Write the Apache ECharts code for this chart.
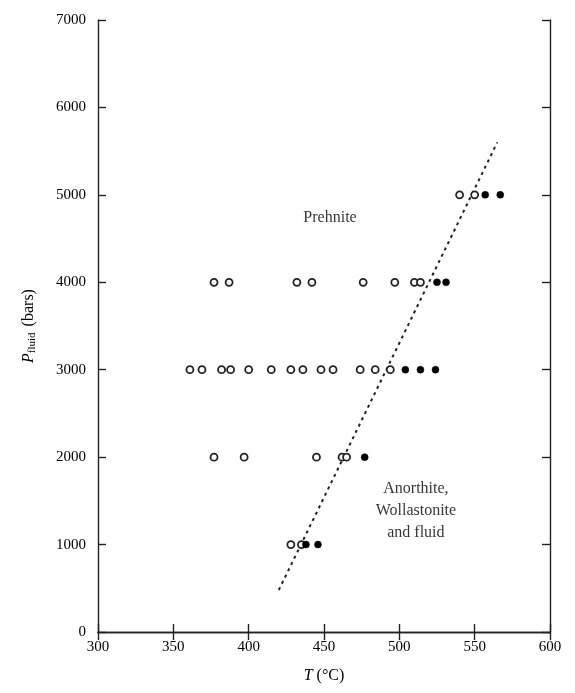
<!DOCTYPE html>
<html>
<head>
<meta charset="utf-8">
<script src="https://cdn.jsdelivr.net/npm/echarts@6/dist/echarts.min.js"></script>
<style>
  html, body { margin: 0; padding: 0; background: #fff; }
  #chart { width: 575px; height: 693px; }
</style>
</head>
<body>
<div id="chart"></div>
<script>
// open circles (T in °C) for each pressure row
const pressures = [1000, 2000, 3000, 4000, 5000];
const openT = [
  [428, 435],
  [377, 397, 445, 462, 465],
  [361, 369, 382, 388, 400, 415, 428, 436, 448, 456, 474, 484, 494],
  [377, 387, 432, 442, 476, 497, 510, 514],
  [540, 550]
];
// filled circles
const filledT = [
  [438, 446],
  [477],
  [504, 514, 524],
  [525, 531],
  [557, 567]
];
// dashed boundary line
const boundaryT = [420, 565];
const boundaryP = [480, 5600];
// field labels
const fieldLabels = ['Prehnite', 'Anorthite,\nWollastonite\nand fluid'];
const fieldT = [454, 511];
const fieldP = [4735, 1390];

const xTicks = [300, 350, 400, 450, 500, 550, 600];
const yTicks = [0, 1000, 2000, 3000, 4000, 5000, 6000, 7000];

const FONT = 'Liberation Serif';
const INK = '#000';

function rowPoints(rows) {
  const pts = [];
  rows.forEach((r, i) => r.forEach(t => pts.push([t, pressures[i]])));
  return pts;
}

const chart = echarts.init(document.getElementById('chart'));

const axisLine = { show: true, lineStyle: { color: '#222', width: 1.4 } };
const tick = { show: true, inside: true, length: 8, lineStyle: { color: '#222', width: 1.4 } };

chart.setOption({
  animation: false,
  grid: { left: 98, right: 25, top: 20, bottom: 61 },
  xAxis: [
    {
      type: 'value', min: xTicks[0], max: xTicks[xTicks.length - 1], interval: 50,
      axisLine, axisTick: tick, splitLine: { show: false },
      axisLabel: { color: INK, fontFamily: FONT, fontSize: 15, margin: 8, formatter: v => String(v) },
      name: '{it|T} (°C)', nameLocation: 'middle', nameGap: 36,
      nameTextStyle: {
        color: INK, fontFamily: FONT, fontSize: 16,
        rich: { it: { fontFamily: FONT, fontStyle: 'italic', fontSize: 16, color: INK } }
      }
    },
    {
      type: 'value', position: 'top', min: xTicks[0], max: xTicks[xTicks.length - 1], interval: 50,
      axisLine, axisTick: tick, axisLabel: { show: false }, splitLine: { show: false }
    }
  ],
  yAxis: [
    {
      type: 'value', min: yTicks[0], max: yTicks[yTicks.length - 1], interval: 1000,
      axisLine, axisTick: tick, splitLine: { show: false },
      axisLabel: { color: INK, fontFamily: FONT, fontSize: 15, margin: 12, formatter: v => String(v) },
      name: '{it|P}{sub|fluid} (bars)', nameLocation: 'middle', nameGap: 60, nameRotate: 90,
      nameTextStyle: {
        color: INK, fontFamily: FONT, fontSize: 16,
        rich: {
          it: { fontFamily: FONT, fontStyle: 'italic', fontSize: 16, color: INK },
          sub: { fontFamily: FONT, fontSize: 11, color: INK, padding: [8, 2, 0, 0] }
        }
      }
    },
    {
      type: 'value', position: 'right', min: yTicks[0], max: yTicks[yTicks.length - 1], interval: 1000,
      axisLine, axisTick: tick, axisLabel: { show: false }, splitLine: { show: false }
    }
  ],
  series: [
    {
      type: 'line',
      data: [[boundaryT[0], boundaryP[0]], [boundaryT[1], boundaryP[1]]],
      symbol: 'none',
      lineStyle: { color: '#222', width: 2, type: [3, 4] },
      z: 1
    },
    {
      type: 'scatter',
      data: rowPoints(openT),
      symbol: 'circle', symbolSize: 7,
      itemStyle: { color: '#fff', borderColor: '#222', borderWidth: 1.8, opacity: 1 },
      z: 2
    },
    {
      type: 'scatter',
      data: rowPoints(filledT),
      symbol: 'circle', symbolSize: 7,
      itemStyle: { color: '#000', borderColor: '#000', borderWidth: 0.5, opacity: 1 },
      z: 3
    },
    {
      type: 'scatter',
      data: fieldLabels.map((s, i) => ({ value: [fieldT[i], fieldP[i]], name: s })),
      symbolSize: 0,
      label: {
        show: true, position: 'inside', formatter: p => p.name,
        color: INK, fontFamily: FONT, fontSize: 16, lineHeight: 22, align: 'center'
      },
      z: 4
    }
  ]
});
</script>
</body>
</html>
